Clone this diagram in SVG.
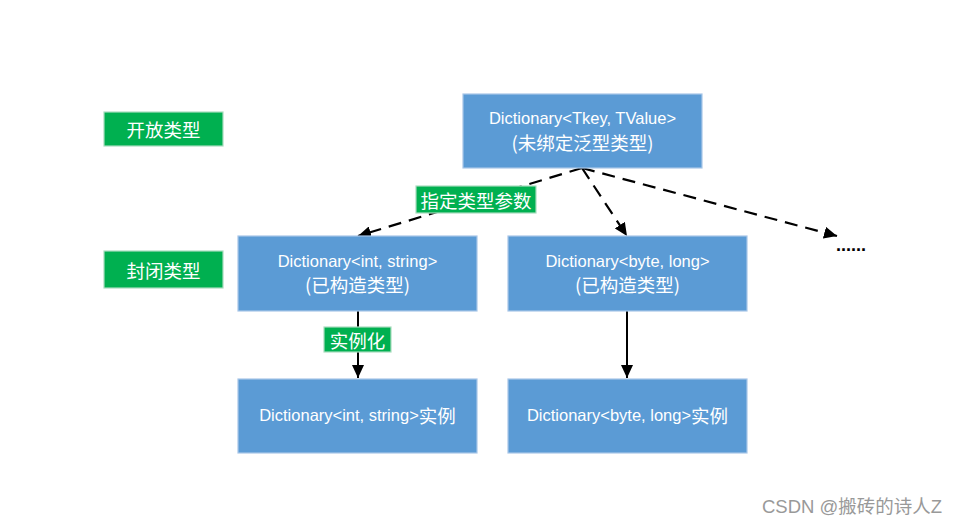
<svg xmlns="http://www.w3.org/2000/svg" width="961" height="525" viewBox="0 0 961 525">
<style>
.box{fill:#5B9BD5;stroke:#A8C6E8;stroke-width:1.2}
.tag{fill:#00B050;stroke:#A9DDBE;stroke-width:1.2}
.t{fill:#fff;font-family:"Liberation Sans","Noto Sans CJK SC",sans-serif;font-size:16.5px;text-anchor:middle;dominant-baseline:central}
.c{font-family:"Noto Sans CJK SC",sans-serif;font-size:18.5px}
.dash{stroke:#000;stroke-width:2.2;fill:none;stroke-dasharray:13 8}
.solid{stroke:#000;stroke-width:2;fill:none}
</style>
<defs>
<marker id="ah" markerUnits="userSpaceOnUse" markerWidth="14" markerHeight="12" refX="13" refY="6" orient="auto">
<path d="M0,0 L13,6 L0,12 z" fill="#000"/>
</marker>
</defs>
<rect width="961" height="525" fill="#fff"/>
<g id="connectors">
<line class="dash" x1="582" y1="168" x2="358" y2="236" marker-end="url(#ah)"/>
<line class="dash" x1="582" y1="168" x2="627" y2="236" marker-end="url(#ah)"/>
<line class="dash" x1="582" y1="168" x2="837" y2="236" marker-end="url(#ah)"/>
<line class="solid" x1="358" y1="311" x2="358" y2="378" marker-end="url(#ah)"/>
<line class="solid" x1="627" y1="311" x2="627" y2="378" marker-end="url(#ah)"/>
</g>
<g id="open-type">
<rect class="tag" x="104" y="112" width="119" height="34"/>
<text class="t c" x="163.5" y="129">开放类型</text>
</g>
<g id="closed-type">
<rect class="tag" x="104" y="251" width="119" height="37"/>
<text class="t c" x="163.5" y="269.5">封闭类型</text>
</g>
<g id="generic">
<rect class="box" x="463" y="94" width="239" height="74"/>
<text class="t" x="582.5" y="118">Dictionary&lt;Tkey, TValue&gt;</text>
<text class="t c" x="582.5" y="142">(未绑定泛型类型)</text>
</g>
<g id="int-string">
<rect class="box" x="238" y="236" width="239" height="75"/>
<text class="t" x="357.5" y="261">Dictionary&lt;int, string&gt;</text>
<text class="t c" x="357.5" y="284">(已构造类型)</text>
</g>
<g id="byte-long">
<rect class="box" x="508" y="236" width="239" height="75"/>
<text class="t" x="627.5" y="261">Dictionary&lt;byte, long&gt;</text>
<text class="t c" x="627.5" y="284">(已构造类型)</text>
</g>
<g id="int-string-instance">
<rect class="box" x="238" y="379" width="239" height="74"/>
<text class="t" x="357.5" y="415">Dictionary&lt;int, string&gt;<tspan class="c">实例</tspan></text>
</g>
<g id="byte-long-instance">
<rect class="box" x="508" y="379" width="239" height="74"/>
<text class="t" x="627.5" y="415">Dictionary&lt;byte, long&gt;<tspan class="c">实例</tspan></text>
</g>
<g id="label-specify">
<rect class="tag" x="416" y="186" width="120" height="27"/>
<text class="t c" x="476" y="199.5">指定类型参数</text>
</g>
<g id="label-instantiate">
<rect class="tag" x="324" y="327" width="67" height="25"/>
<text class="t c" x="357.5" y="339.5">实例化</text>
</g>
<g id="more">
<text x="836" y="251" font-family="Liberation Sans,sans-serif" font-size="18" font-weight="bold" fill="#000">......</text>
</g>
<text x="762" y="513" font-family="'Liberation Sans','Noto Sans CJK SC',sans-serif" font-size="18.5" fill="#999">CSDN @搬砖的诗人Z</text>
</svg>
